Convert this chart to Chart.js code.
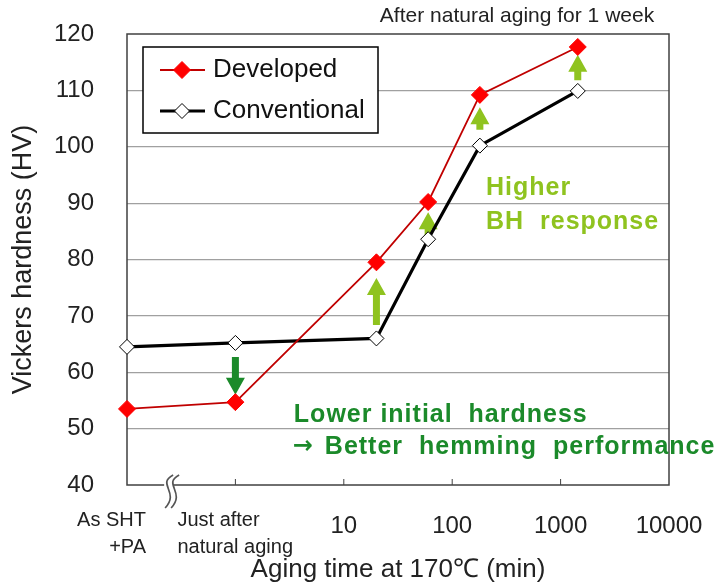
<!DOCTYPE html>
<html>
<head>
<meta charset="utf-8">
<script src="https://cdn.jsdelivr.net/npm/chart.js@4.4.0/dist/chart.umd.min.js"></script>
<style>
  html, body { margin: 0; padding: 0; background: #fff; }
</style>
</head>
<body>
<canvas id="chart" width="715" height="585"></canvas>
<script>
// aging time in minutes; 0.1 and 1 stand for "As SHT +PA" and "Just after natural aging"
const xValues = [0.1, 1, 20, 60, 180, 1440];
const developed = [53.5, 54.7, 79.5, 90.2, 109.2, 117.7];
const conventional = [64.5, 65.2, 66.0, 83.6, 100.2, 109.9];

const xTickValues = [0.1, 1, 10, 100, 1000, 10000];
const xTickLabels = [['As SHT', '+PA'], ['Just after', 'natural aging'], '10', '100', '1000', '10000'];

// arrows showing the change (data units)
const upArrowX = [20, 60, 180, 1440];
const upArrowFrom = [68.4, 83.5, 103.0, 111.8];
const upArrowTo = [76.7, 88.4, 107.0, 116.3];
const downArrowX = [1];
const downArrowFrom = [62.7];
const downArrowTo = [56.0];

const FONT = "'Liberation Sans', Arial, sans-serif";
const LIGHT_GREEN = '#8fc31f';
const DARK_GREEN = '#1b8a2a';

function arrow(ctx, x, y0, y1, color) {
  let dir = y1 < y0 ? -1 : 1;
  let head = 17, half = 9.5, shaft = 3.5;
  let yh = y1 - dir * head;
  ctx.fillStyle = color;
  ctx.beginPath();
  ctx.moveTo(x - shaft, y0);
  ctx.lineTo(x - shaft, yh);
  ctx.lineTo(x - half, yh);
  ctx.lineTo(x, y1);
  ctx.lineTo(x + half, yh);
  ctx.lineTo(x + shaft, yh);
  ctx.lineTo(x + shaft, y0);
  ctx.closePath();
  ctx.fill();
}

function sCurve(ctx, x, y) {
  ctx.moveTo(x + 9, y - 10);
  ctx.bezierCurveTo(x - 8, y - 1, x + 16, y + 7, x + 1, y + 23);
}

function diamond(ctx, x, y, r, fill, stroke) {
  ctx.beginPath();
  ctx.moveTo(x - r, y);
  ctx.lineTo(x, y - r);
  ctx.lineTo(x + r, y);
  ctx.lineTo(x, y + r);
  ctx.closePath();
  ctx.fillStyle = fill;
  ctx.fill();
  ctx.strokeStyle = stroke;
  ctx.lineWidth = 1;
  ctx.stroke();
}

const extras = {
  id: 'extras',
  beforeDatasetsDraw(chart) {
    let ctx = chart.ctx;
    let xs = chart.scales.x, ys = chart.scales.y;
    let a = chart.chartArea;
    ctx.save();

    // frame
    ctx.strokeStyle = '#404040';
    ctx.lineWidth = 1.5;
    ctx.strokeRect(a.left, a.top, a.right - a.left, a.bottom - a.top);

    // inner tick marks on x axis
    ctx.lineWidth = 1;
    xTickValues.forEach(v => {
      let px = xs.getPixelForValue(v);
      if (px > a.left + 2 && px < a.right - 2) {
        ctx.beginPath();
        ctx.moveTo(px, a.bottom);
        ctx.lineTo(px, a.bottom - 6);
        ctx.stroke();
      }
    });

    // axis break mark
    let bx = xs.getPixelForValue(0.25) - 6;
    let by = a.bottom;
    ctx.fillStyle = '#fff';
    ctx.fillRect(bx, by - 2, 9, 4);
    ctx.strokeStyle = '#555';
    ctx.lineWidth = 1.7;
    ctx.beginPath();
    sCurve(ctx, bx, by);
    sCurve(ctx, bx + 6, by);
    ctx.stroke();

    // arrows
    upArrowX.forEach((x, i) => {
      arrow(ctx, xs.getPixelForValue(x), ys.getPixelForValue(upArrowFrom[i]), ys.getPixelForValue(upArrowTo[i]), LIGHT_GREEN);
    });
    downArrowX.forEach((x, i) => {
      arrow(ctx, xs.getPixelForValue(x), ys.getPixelForValue(downArrowFrom[i]), ys.getPixelForValue(downArrowTo[i]), DARK_GREEN);
    });

    // annotation text
    ctx.textBaseline = 'middle';
    ctx.textAlign = 'left';
    ctx.letterSpacing = '1px';
    ctx.font = 'bold 25px ' + FONT;
    ctx.fillStyle = LIGHT_GREEN;
    let hx = xs.getPixelForValue(205), hy = ys.getPixelForValue(92.7);
    ctx.fillText('Higher', hx, hy);
    ctx.fillText('BH  response', hx, hy + 34);

    ctx.fillStyle = DARK_GREEN;
    let lx = xs.getPixelForValue(3.46), ly = ys.getPixelForValue(52.4);
    ctx.fillText('Lower initial  hardness', lx, ly);
    ctx.font = 'bold 24px "DejaVu Sans", sans-serif';
    ctx.letterSpacing = '0px';
    ctx.fillText('\u2192', lx - 1, ly + 32);
    ctx.font = 'bold 25px ' + FONT;
    ctx.letterSpacing = '1px';
    ctx.fillText('Better  hemming  performance', lx + 31, ly + 32);
    ctx.restore();
  },
  afterDraw(chart) {
    let ctx = chart.ctx;
    let xs = chart.scales.x;
    let a = chart.chartArea;
    ctx.save();
    ctx.fillStyle = '#222';
    ctx.textBaseline = 'middle';

    // the two non-numeric x labels
    ctx.font = '20px ' + FONT;
    let p0 = xs.getPixelForValue(xTickValues[0]);
    ctx.textAlign = 'right';
    xTickLabels[0].forEach((t, i) => ctx.fillText(t, p0 + 19, 520 + i * 27));
    let p1 = xs.getPixelForValue(xTickValues[1]);
    ctx.textAlign = 'left';
    xTickLabels[1].forEach((t, i) => ctx.fillText(t, p1 - 58, 520 + i * 27));

    // note above the plot
    ctx.font = '21px ' + FONT;
    ctx.textAlign = 'center';
    ctx.fillText('After natural aging for 1 week', 517, a.top - 18);

    // legend box
    let lx = a.left + 16, ly = a.top + 13;
    ctx.fillStyle = '#fff';
    ctx.fillRect(lx, ly, 235, 86);
    ctx.strokeStyle = '#000';
    ctx.lineWidth = 1.5;
    ctx.strokeRect(lx, ly, 235, 86);
    chart.data.datasets.forEach((ds, i) => {
      let y = ly + 23 + i * 41;
      ctx.strokeStyle = ds.borderColor;
      ctx.lineWidth = ds.borderWidth;
      ctx.beginPath();
      ctx.moveTo(lx + 17, y);
      ctx.lineTo(lx + 62, y);
      ctx.stroke();
      diamond(ctx, lx + 39, y, ds.pointRadius, ds.pointBackgroundColor, ds.pointBorderColor);
      ctx.fillStyle = '#111';
      ctx.font = '26px ' + FONT;
      ctx.textAlign = 'left';
      ctx.fillText(ds.label, lx + 70, y);
    });
    ctx.restore();
  }
};

new Chart(document.getElementById('chart'), {
  type: 'line',
  data: {
    datasets: [
      {
        label: 'Developed',
        data: xValues.map((x, i) => ({ x: x, y: developed[i] })),
        borderColor: '#c00000',
        borderWidth: 1.8,
        pointStyle: 'rectRot',
        pointRadius: 8.5,
        pointBackgroundColor: '#ff0000',
        pointBorderColor: '#ff0000',
        pointBorderWidth: 1,
        clip: false
      },
      {
        label: 'Conventional',
        data: xValues.map((x, i) => ({ x: x, y: conventional[i] })),
        borderColor: '#000000',
        borderWidth: 3.2,
        pointStyle: 'rectRot',
        pointRadius: 7.5,
        pointBackgroundColor: '#ffffff',
        pointBorderColor: '#000000',
        pointBorderWidth: 1,
        clip: false
      }
    ]
  },
  options: {
    responsive: false,
    animation: false,
    layout: { padding: { top: 34, right: 46, left: 0, bottom: 0 } },
    plugins: {
      legend: { display: false },
      tooltip: { enabled: false }
    },
    scales: {
      x: {
        type: 'logarithmic',
        min: 0.1,
        max: 10000,
        afterFit(scale) {
          scale.height = 100;
          scale.paddingLeft = 0;
          scale.paddingRight = 0;
        },
        afterBuildTicks(scale) {
          scale.ticks = xTickValues.map(v => ({ value: v }));
        },
        grid: { display: false, drawTicks: false },
        border: { display: false },
        ticks: {
          autoSkip: false,
          maxRotation: 0,
          padding: 27,
          color: '#222',
          font: { family: FONT, size: 24 },
          callback: (v, i) => typeof xTickLabels[i] === 'string' ? xTickLabels[i] : ''
        },
        title: {
          display: true,
          text: 'Aging time at 170\u2103 (min)',
          color: '#222',
          font: { family: FONT, size: 26 },
          padding: { top: 0, bottom: 0 }
        }
      },
      y: {
        min: 40,
        max: 120,
        afterFit(scale) {
          scale.width = 127;
          scale.paddingTop = 0;
          scale.paddingBottom = 0;
        },
        grid: {
          drawTicks: false,
          color: ctx => (ctx.tick && (ctx.tick.value === 40 || ctx.tick.value === 120)) ? 'rgba(0,0,0,0)' : '#a0a0a0',
          lineWidth: 1.2
        },
        border: { display: false },
        ticks: {
          stepSize: 10,
          padding: 33,
          color: '#222',
          font: { family: FONT, size: 24 }
        },
        title: {
          display: true,
          text: 'Vickers hardness (HV)',
          color: '#222',
          font: { family: FONT, size: 27 },
          padding: { top: 7, bottom: 0 }
        }
      }
    }
  },
  plugins: [extras]
});
</script>
</body>
</html>
